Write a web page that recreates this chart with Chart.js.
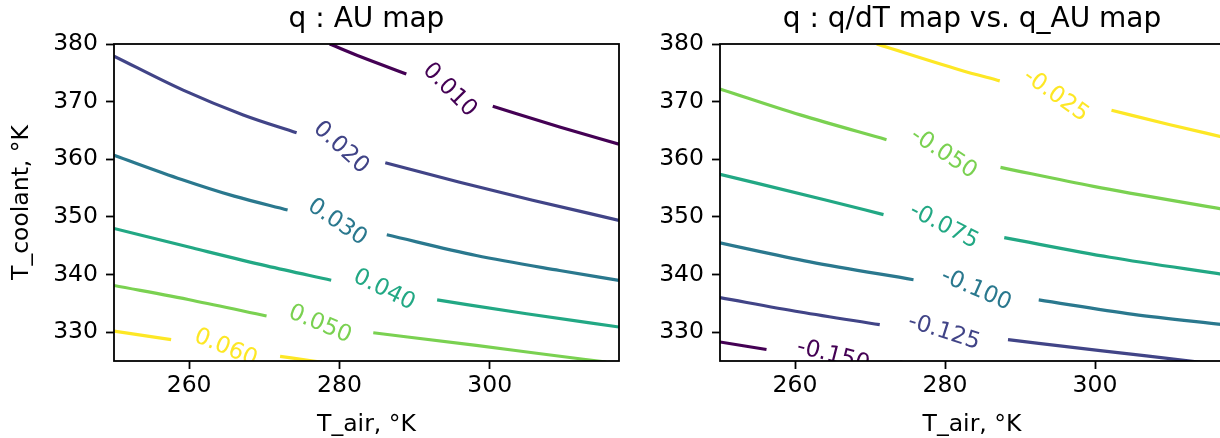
<!DOCTYPE html>
<html>
<head>
<meta charset="utf-8">
<script src="https://cdn.jsdelivr.net/npm/chart.js@4.4.1/dist/chart.umd.min.js"></script>
<style>
  body { margin: 0; background: #fff; width: 1220px; height: 438px; overflow: hidden; position: relative; }
  canvas { position: absolute; top: 0; }
</style>
</head>
<body>
<canvas id="auChart" width="640" height="438" style="left:0"></canvas>
<canvas id="dtChart" width="610" height="438" style="left:620px"></canvas>
<script>
// axis ticks (T_air on x, T_coolant on y)
var xTicks = [260, 280, 300];
var yTicks = [330, 340, 350, 360, 370, 380];

// left map : contour levels, each line is [T_air, T_coolant] points, null = gap for the label
var auLevels = ['0.010', '0.020', '0.030', '0.040', '0.050', '0.060'];
var au010 = [[278.7, 380], [283, 377.7], [288.9, 374.8], null, [300.4, 369.2], [309.3, 365.6], [317.2, 362.6]];
var au020 = [[250, 377.9], [259.2, 372.0], [267.2, 367.7], [274.3, 364.6], null, [286.1, 359.4], [296.0, 356.0], [305.7, 352.9], [317.2, 349.4]];
var au030 = [[250, 360.7], [259, 356.5], [266, 353.6], [273.1, 351.2], null, [286.3, 346.9], [298.2, 343.3], [309.3, 340.7], [317.2, 339.0]];
var au040 = [[250, 348.0], [260.5, 344.6], [270.3, 341.5], [278.9, 339.0], null, [293.0, 335.6], [304.9, 333.2], [317.2, 330.9]];
var au050 = [[250, 338.1], [260.5, 335.5], [270.3, 332.8], null, [284.5, 329.9], [298.2, 327.7], [306.5, 326.3], [315.5, 324.8]];
var au060 = [[250, 330.2], [257.6, 328.7], null, [272.1, 325.8], [276.5, 325.0], [278, 324.7]];

// right map : q/dT vs q_AU
var dtLevels = ['-0.150', '-0.125', '-0.100', '-0.075', '-0.050', '-0.025'];
var dt150 = [[250, 328.3], [256.2, 327.0], null, [274, 324.8], [280, 323.8]];
var dt125 = [[250, 336.0], [260.7, 333.5], [271.3, 331.3], null, [288.4, 328.7], [300.7, 326.8], [312.7, 325.0], [314, 324.8]];
var dt100 = [[250, 345.5], [262.0, 342.2], [275.8, 339.1], null, [292.5, 335.6], [305.1, 333.1], [317.2, 331.3]];
var dt075 = [[250, 357.4], [264.2, 352.9], [271.8, 350.4], null, [287.9, 346.4], [302.0, 343.0], [317.2, 340.0]];
var dt050 = [[250, 372.2], [260.7, 367.7], [272.2, 363.4], null, [287.4, 358.6], [299.8, 355.3], [317.2, 351.3]];
var dt025 = [[270.9, 380], [282.0, 375.5], [287.3, 373.6], null, [302.2, 368.5], [310, 366.0], [317.2, 363.8]];

// viridis, low level -> high level
var viridis = ['#440154', '#414487', '#2a788e', '#22a884', '#7ad151', '#fde725'];

var FONT = 'DejaVu Sans';

function toXY(line) {
	return line.map(function (p) { return p ? { x: p[0], y: p[1] } : { x: null, y: null }; });
}

function contourSets(levels, lines) {
	return lines.map(function (line, i) {
		return {
			label: levels[i],
			data: toXY(line),
			borderColor: viridis[i],
			borderWidth: 3.2,
			pointRadius: 0,
			cubicInterpolationMode: 'monotone',
			fill: false
		};
	});
}

// inline contour labels, put in the gaps of each line
var contourLabels = {
	id: 'contourLabels',
	afterDatasetsDraw: function (chart, args, opts) {
		var ctx = chart.ctx, a = chart.chartArea;
		ctx.save();
		ctx.beginPath();
		ctx.rect(a.left, a.top, a.right - a.left, a.bottom - a.top);
		ctx.clip();
		ctx.font = opts.size + 'px "' + FONT + '"';
		ctx.textAlign = 'center';
		ctx.textBaseline = 'middle';
		chart.data.datasets.forEach(function (ds, di) {
			var pts = chart.getDatasetMeta(di).data;
			ds.data.forEach(function (d, i) {
				if (d.y !== null) return;
				var p0 = pts[i - 1], p1 = pts[i + 1];
				var ang = Math.atan2((p1.y - p0.y) * opts.skew, p1.x - p0.x);
				ctx.save();
				ctx.translate((p0.x + p1.x) / 2, (p0.y + p1.y) / 2);
				ctx.rotate(ang);
				ctx.fillStyle = ds.borderColor;
				ctx.fillText(ds.label, 0, 0);
				ctx.restore();
			});
		});
		ctx.restore();
	}
};

// box around the plot area
var frame = {
	id: 'frame',
	afterDraw: function (chart) {
		var ctx = chart.ctx, a = chart.chartArea;
		ctx.save();
		ctx.strokeStyle = '#000';
		ctx.lineWidth = 1.8;
		ctx.strokeRect(a.left, a.top, a.right - a.left, a.bottom - a.top);
		ctx.restore();
	}
};

function makeOptions(title, yTitle, yWidth, padRight) {
	var tickGrid = { drawOnChartArea: false, tickLength: 8, tickWidth: 1.8, tickColor: '#000' };
	return {
		responsive: false,
		animation: false,
		events: [],
		layout: { padding: { left: 0, top: 0, right: padRight, bottom: 0 } },
		plugins: {
			legend: { display: false },
			tooltip: { enabled: false },
			title: {
				display: true,
				text: title,
				fullSize: false,
				color: '#000',
				font: { family: FONT, size: 28, weight: 'normal' },
				padding: { top: 3, bottom: 7.4 }
			},
			contourLabels: { skew: 2.7, size: 23 }
		},
		scales: {
			x: {
				type: 'linear',
				min: 250,
				max: 317.2,
				afterBuildTicks: function (s) { s.ticks = xTicks.map(function (v) { return { value: v }; }); },
				afterFit: function (s) { s.height = 77; },
				ticks: { color: '#000', font: { family: FONT, size: 23.5 }, padding: 3, maxRotation: 0 },
				grid: tickGrid,
				border: { display: false },
				title: {
					display: true,
					text: 'T_air, °K',
					color: '#000',
					font: { family: FONT, size: 23.5 },
					padding: { top: 0, bottom: -1 }
				}
			},
			y: {
				type: 'linear',
				min: 325,
				max: 380,
				afterBuildTicks: function (s) { s.ticks = yTicks.map(function (v) { return { value: v }; }); },
				afterFit: function (s) { s.width = yWidth; },
				ticks: { color: '#000', font: { family: FONT, size: 23.5 }, padding: 8 },
				grid: tickGrid,
				border: { display: false },
				title: {
					display: yTitle !== '',
					text: yTitle,
					color: '#000',
					font: { family: FONT, size: 23.5 },
					padding: { top: 8, bottom: 0 }
				}
			}
		}
	};
}

var context = document.getElementById('auChart').getContext('2d');
var auChart = new Chart(context, {
	type: 'line',
	data: { datasets: contourSets(auLevels, [au010, au020, au030, au040, au050, au060]) },
	options: makeOptions('q : AU map', 'T_coolant, °K', 114, 21),
	plugins: [contourLabels, frame]
});

var context2 = document.getElementById('dtChart').getContext('2d');
var dtChart = new Chart(context2, {
	type: 'line',
	data: { datasets: contourSets(dtLevels, [dt150, dt125, dt100, dt075, dt050, dt025]) },
	options: makeOptions('q : q/dT map vs. q_AU map', '', 100, 6),
	plugins: [contourLabels, frame]
});
</script>
</body>
</html>
